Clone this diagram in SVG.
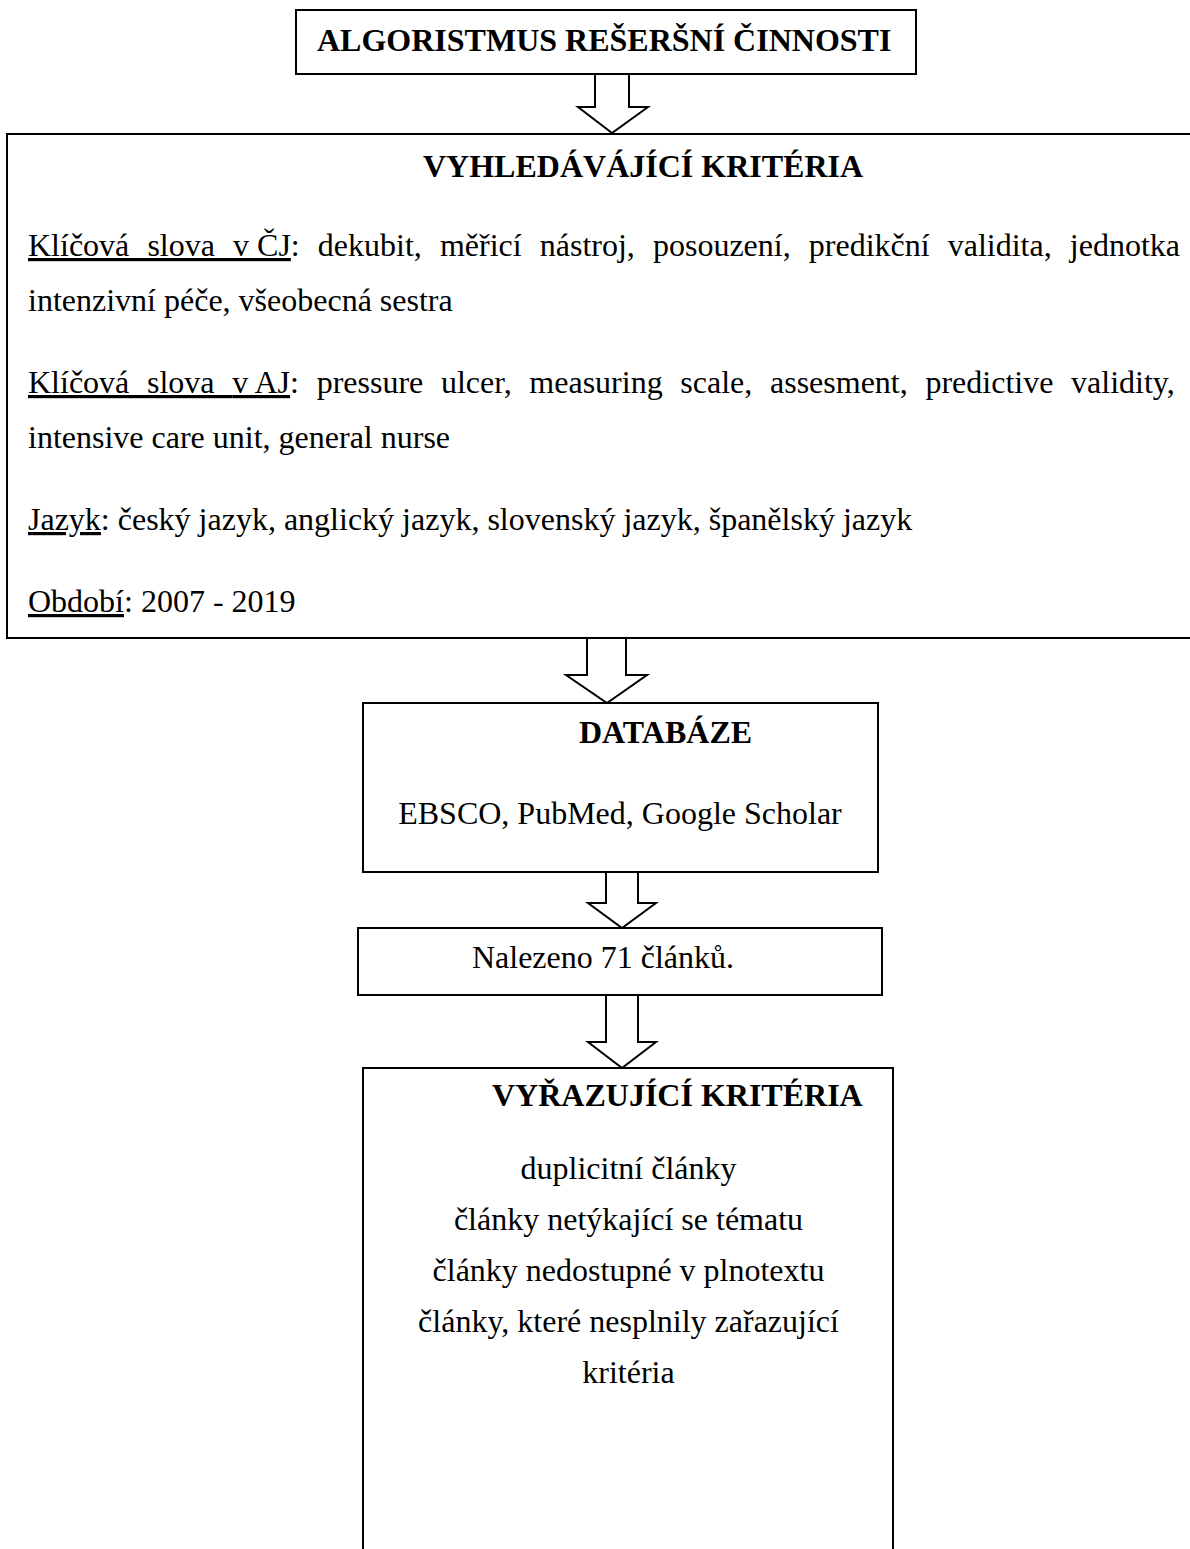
<svg xmlns="http://www.w3.org/2000/svg" width="1190" height="1549" viewBox="0 0 1190 1549">
<style>
.box{fill:#fff;stroke:#000;stroke-width:2}
.arr{fill:#fff;stroke:#000;stroke-width:2;stroke-linejoin:miter}
.t{font-family:"Liberation Serif","Times New Roman",serif;font-size:32px;fill:#000}
.b{font-weight:bold}
.c{text-anchor:middle}
.u{text-decoration:underline;text-decoration-thickness:2px}
</style>
<rect width="1190" height="1549" fill="#fff"/>
<g id="connectors">
<polygon class="arr" points="595,74 629,74 629,107 648,107 612,133 578,107 595,107"/>
<polygon class="arr" points="587,638 626,638 626,675 647,675 607,703 566,675 587,675"/>
<polygon class="arr" points="606,872 638,872 638,903 656,903 622,928 588,903 606,903"/>
<polygon class="arr" points="606,995 638,995 638,1042 656,1042 622,1068 588,1042 606,1042"/>
</g>
<g id="node-algoritmus">
<rect class="box" x="296" y="10" width="620" height="64"/>
<text class="t b" x="317" y="51">ALGORISTMUS REŠERŠNÍ ČINNOSTI</text>
</g>
<g id="node-vyhledavaci">
<rect class="box" x="7" y="134" width="1200" height="504"/>
<text class="t b" x="423" y="177">VYHLEDÁVÁJÍCÍ KRITÉRIA</text>
<text class="t" x="28" y="256" style="word-spacing:10.1px"><tspan class="u">Klíčová slova <tspan style="word-spacing:0">v ČJ</tspan></tspan>: dekubit, měřicí nástroj, posouzení, predikční validita, jednotka</text>
<text class="t" x="28" y="311">intenzivní péče, všeobecná sestra</text>
<text class="t" x="28" y="393" style="word-spacing:9.7px"><tspan class="u">Klíčová slova <tspan style="word-spacing:0">v AJ</tspan></tspan>: pressure ulcer, measuring scale, assesment, predictive validity,</text>
<text class="t" x="28" y="448">intensive care unit, general nurse</text>
<text class="t" x="28" y="530"><tspan class="u">Jazyk</tspan>: český jazyk, anglický jazyk, slovenský jazyk, španělský jazyk</text>
<text class="t" x="28" y="612"><tspan class="u">Období</tspan>: 2007 - 2019</text>
</g>
<g id="node-databaze">
<rect class="box" x="363" y="703" width="515" height="169"/>
<text class="t b" x="579" y="743">DATABÁZE</text>
<text class="t c" x="620" y="824">EBSCO, PubMed, Google Scholar</text>
</g>
<g id="node-nalezeno">
<rect class="box" x="358" y="928" width="524" height="67"/>
<text class="t c" x="603" y="968">Nalezeno 71 článků.</text>
</g>
<g id="node-vyrazujici">
<rect class="box" x="363" y="1068" width="530" height="520"/>
<text class="t b" x="492" y="1106">VYŘAZUJÍCÍ KRITÉRIA</text>
<text class="t c" x="628.5" y="1179">duplicitní články</text>
<text class="t c" x="628.5" y="1230">články netýkající se tématu</text>
<text class="t c" x="628.5" y="1281">články nedostupné v plnotextu</text>
<text class="t c" x="628.5" y="1332">články, které nesplnily zařazující</text>
<text class="t c" x="628.5" y="1383">kritéria</text>
</g>
</svg>
